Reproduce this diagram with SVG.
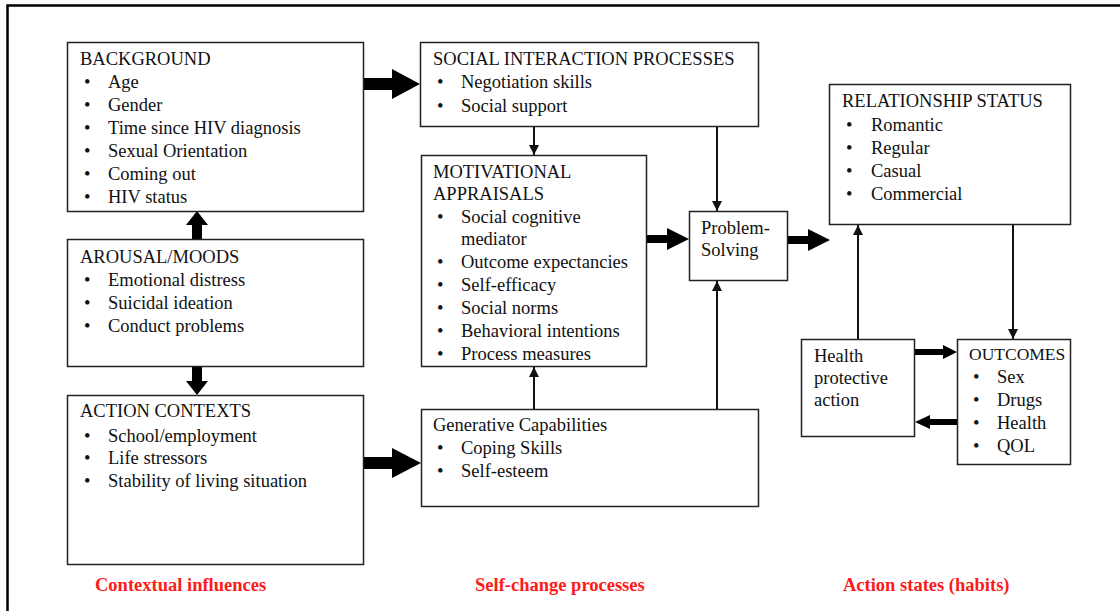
<svg xmlns="http://www.w3.org/2000/svg" width="1120" height="611" viewBox="0 0 1120 611">
  <style>
    .box { fill: #fff; stroke: #222; stroke-width: 1.5; }
    .t { font-family: "Liberation Serif", "Times New Roman", serif; font-size: 18.5px; fill: #111; }
    .s { font-size: 17.5px; }
    .label { font-family: "Liberation Serif", "Times New Roman", serif; font-size: 18.5px; font-weight: bold; fill: #ff1a1a; }
    .thin { stroke: #111; stroke-width: 2; fill: none; }
    .block { fill: #000; }
  </style>
  <defs>
    <marker id="head" viewBox="0 0 10 10" refX="10" refY="5" markerWidth="5" markerHeight="5" orient="auto" markerUnits="strokeWidth">
      <path d="M0,0 L10,5 L0,10 z" fill="#111"/>
    </marker>
  </defs>

  <rect width="1120" height="611" fill="#fff"/>
  <!-- frame, open on the right and bottom -->
  <rect x="7.5" y="5.5" width="1200" height="700" fill="none" stroke="#000" stroke-width="2.5"/>

  <!-- connectors -->
  <g id="connectors">
    <!-- block arrows -->
    <polygon class="block" points="364,78 392,78 392,69 420,84 392,99 392,90 364,90"/>
    <polygon class="block" points="364,457 392,457 392,448 421,463 392,478 392,469 364,469"/>
    <polygon class="block" points="647,235 667,235 667,228 689,239 667,250 667,243 647,243"/>
    <polygon class="block" points="788,236 808,236 808,229 830,240 808,251 808,244 788,244"/>
    <polygon class="block" points="915,349 943,349 943,345 957,352 943,359 943,355 915,355"/>
    <polygon class="block" points="957,419 930,419 930,415 915,422 930,429 930,425 957,425"/>
    <polygon class="block" points="192,239 192,225 186,225 197,211 208,225 202,225 202,239"/>
    <polygon class="block" points="192,367 192,381 186,381 197,395 208,381 202,381 202,367"/>
    <!-- thin arrows -->
    <line class="thin" x1="534" y1="127" x2="534" y2="155" marker-end="url(#head)"/>
    <line class="thin" x1="717" y1="127" x2="717" y2="211" marker-end="url(#head)"/>
    <line class="thin" x1="534" y1="409" x2="534" y2="367" marker-end="url(#head)"/>
    <line class="thin" x1="717" y1="409" x2="717" y2="281" marker-end="url(#head)"/>
    <line class="thin" x1="858" y1="339" x2="858" y2="225" marker-end="url(#head)"/>
    <line class="thin" x1="1013" y1="225" x2="1013" y2="339" marker-end="url(#head)"/>
  </g>

  <g id="background">
    <rect class="box" x="67.5" y="42.5" width="296" height="169"/>
    <text class="t" x="80" y="65">BACKGROUND</text>
    <g class="t">
      <text x="84" y="88">•</text><text x="108" y="88">Age</text>
      <text x="84" y="111">•</text><text x="108" y="111">Gender</text>
      <text x="84" y="134">•</text><text x="108" y="134">Time since HIV diagnosis</text>
      <text x="84" y="157">•</text><text x="108" y="157">Sexual Orientation</text>
      <text x="84" y="180">•</text><text x="108" y="180">Coming out</text>
      <text x="84" y="203">•</text><text x="108" y="203">HIV status</text>
    </g>
  </g>

  <g id="arousal-moods">
    <rect class="box" x="67.5" y="239.5" width="296" height="127"/>
    <text class="t" x="80" y="263">AROUSAL/MOODS</text>
    <g class="t">
      <text x="84" y="286">•</text><text x="108" y="286">Emotional distress</text>
      <text x="84" y="309">•</text><text x="108" y="309">Suicidal ideation</text>
      <text x="84" y="332">•</text><text x="108" y="332">Conduct problems</text>
    </g>
  </g>

  <g id="action-contexts">
    <rect class="box" x="67.5" y="395.5" width="296" height="169"/>
    <text class="t" x="80" y="417">ACTION CONTEXTS</text>
    <g class="t">
      <text x="84" y="442">•</text><text x="108" y="442">School/employment</text>
      <text x="84" y="464">•</text><text x="108" y="464">Life stressors</text>
      <text x="84" y="487">•</text><text x="108" y="487">Stability of living situation</text>
    </g>
  </g>

  <g id="social-interaction">
    <rect class="box" x="420.5" y="42.5" width="338" height="84"/>
    <text class="t" x="433" y="65">SOCIAL INTERACTION PROCESSES</text>
    <g class="t">
      <text x="437" y="88">•</text><text x="461" y="88">Negotiation skills</text>
      <text x="437" y="112">•</text><text x="461" y="112">Social support</text>
    </g>
  </g>

  <g id="motivational-appraisals">
    <rect class="box" x="421.5" y="155.5" width="225" height="211"/>
    <text class="t" x="433" y="178">MOTIVATIONAL</text>
    <text class="t" x="433" y="200">APPRAISALS</text>
    <g class="t">
      <text x="437" y="223">•</text><text x="461" y="223">Social cognitive</text>
      <text x="461" y="245">mediator</text>
      <text x="437" y="268">•</text><text x="461" y="268">Outcome expectancies</text>
      <text x="437" y="291">•</text><text x="461" y="291">Self-efficacy</text>
      <text x="437" y="314">•</text><text x="461" y="314">Social norms</text>
      <text x="437" y="337">•</text><text x="461" y="337">Behavioral intentions</text>
      <text x="437" y="360">•</text><text x="461" y="360">Process measures</text>
    </g>
  </g>

  <g id="generative-capabilities">
    <rect class="box" x="421.5" y="409.5" width="337" height="97"/>
    <text class="t" x="433" y="431">Generative Capabilities</text>
    <g class="t">
      <text x="437" y="454">•</text><text x="461" y="454">Coping Skills</text>
      <text x="437" y="477">•</text><text x="461" y="477">Self-esteem</text>
    </g>
  </g>

  <g id="problem-solving">
    <rect class="box" x="689.5" y="211.5" width="98" height="69"/>
    <text class="t" x="701" y="234">Problem-</text>
    <text class="t" x="701" y="256">Solving</text>
  </g>

  <g id="relationship-status">
    <rect class="box" x="829.5" y="84.5" width="241" height="140"/>
    <text class="t" x="842" y="107">RELATIONSHIP STATUS</text>
    <g class="t">
      <text x="846" y="131">•</text><text x="871" y="131">Romantic</text>
      <text x="846" y="154">•</text><text x="871" y="154">Regular</text>
      <text x="846" y="177">•</text><text x="871" y="177">Casual</text>
      <text x="846" y="200">•</text><text x="871" y="200">Commercial</text>
    </g>
  </g>

  <g id="health-protective-action">
    <rect class="box" x="801.5" y="339.5" width="113" height="97"/>
    <text class="t" x="814" y="362">Health</text>
    <text class="t" x="814" y="384">protective</text>
    <text class="t" x="814" y="406">action</text>
  </g>

  <g id="outcomes">
    <rect class="box" x="957.5" y="339.5" width="113" height="125"/>
    <text class="t s" x="969" y="360">OUTCOMES</text>
    <g class="t">
      <text x="973" y="383">•</text><text x="997" y="383">Sex</text>
      <text x="973" y="406">•</text><text x="997" y="406">Drugs</text>
      <text x="973" y="429">•</text><text x="997" y="429">Health</text>
      <text x="973" y="452">•</text><text x="997" y="452">QOL</text>
    </g>
  </g>

  <!-- column captions -->
  <text class="label" x="95" y="591">Contextual influences</text>
  <text class="label" x="475" y="591">Self-change processes</text>
  <text class="label" x="843" y="591">Action states (habits)</text>
</svg>
